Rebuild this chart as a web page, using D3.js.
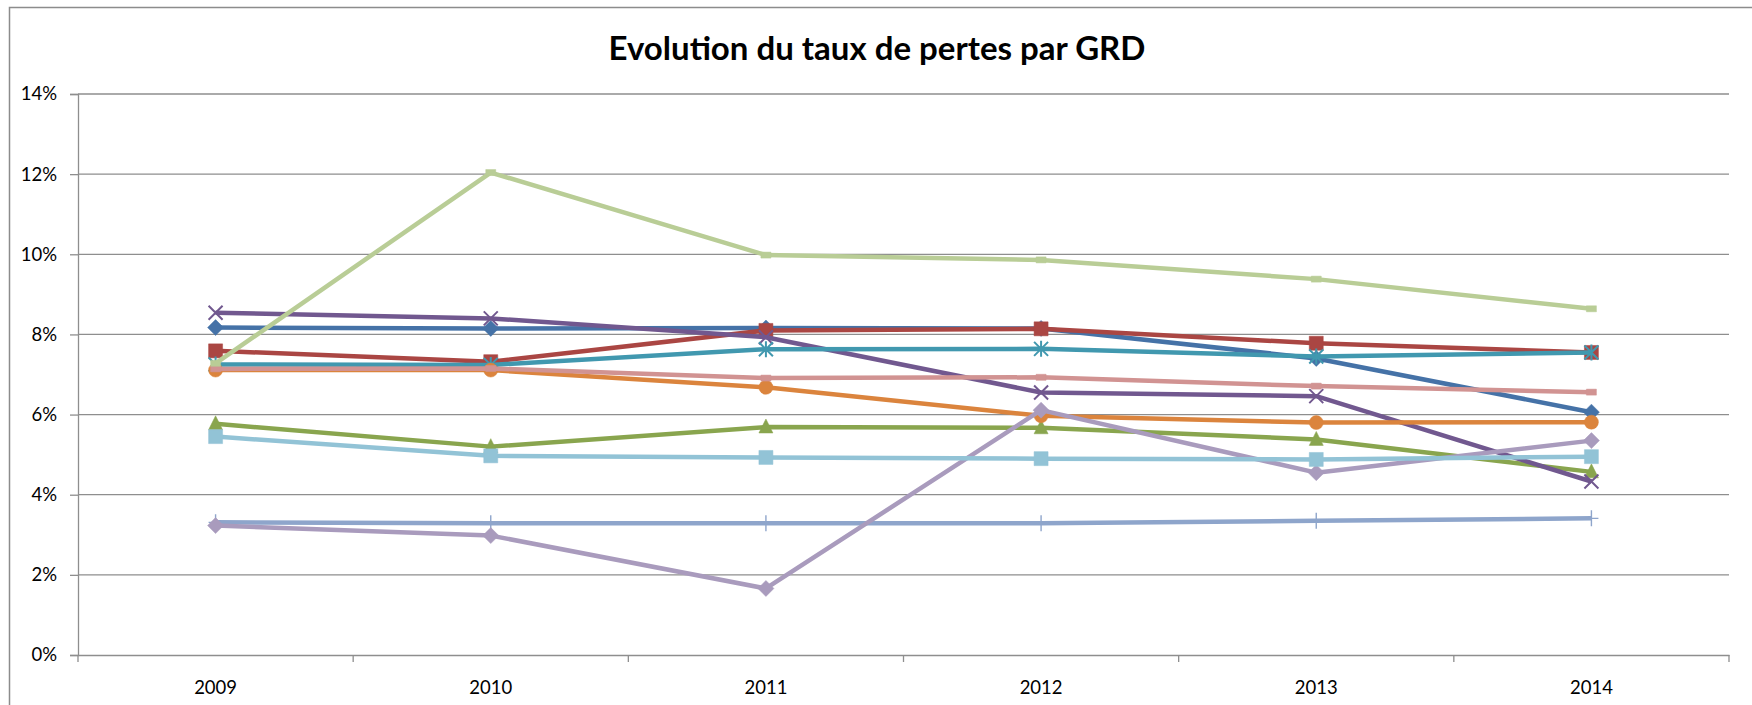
<!DOCTYPE html>
<html>
<head>
<meta charset="utf-8">
<script src="https://cdn.jsdelivr.net/npm/d3@7"></script>
<style>
  html, body { margin: 0; padding: 0; background: #fff; }
  svg { display: block; }
  text { font-family: Lato, "Open Sans", "Liberation Sans", sans-serif; fill: #000; }
</style>
</head>
<body>
<svg id="chart" width="1752" height="705"></svg>
<script>
// ---- data ----
const title = "Evolution du taux de pertes par GRD";
const years = ["2009", "2010", "2011", "2012", "2013", "2014"];
const yTicks = [0, 2, 4, 6, 8, 10, 12, 14];

const grd1 = [8.17, 8.15, 8.16, 8.15, 7.40, 6.06];
const grd2 = [7.59, 7.32, 8.10, 8.14, 7.78, 7.55];
const grd3 = [5.77, 5.20, 5.69, 5.67, 5.38, 4.57];
const grd4 = [8.54, 8.40, 7.93, 6.55, 6.46, 4.33];
const grd5 = [7.25, 7.24, 7.63, 7.64, 7.45, 7.55];
const grd6 = [7.11, 7.11, 6.68, 5.97, 5.80, 5.81];
const grd7 = [3.31, 3.29, 3.29, 3.29, 3.35, 3.41];
const grd8 = [7.14, 7.15, 6.91, 6.93, 6.71, 6.56];
const grd9 = [7.28, 12.04, 9.98, 9.86, 9.38, 8.64];
const grd10 = [3.23, 2.98, 1.66, 6.11, 4.55, 5.35];
const grd11 = [5.45, 4.97, 4.93, 4.90, 4.88, 4.95];

const seriesNames = ["GRD 1","GRD 2","GRD 3","GRD 4","GRD 5","GRD 6","GRD 7","GRD 8","GRD 9","GRD 10","GRD 11"];
const seriesValues = [grd1, grd2, grd3, grd4, grd5, grd6, grd7, grd8, grd9, grd10, grd11];
const seriesColors = ["#4572A7","#AA4643","#89A54E","#71588F","#4198AF","#DB843D","#8EA5CB","#D19392","#B9CD96","#A99BBD","#92C3D6"];
const seriesMarkers = ["diamond","square","triangle","x","star","circle","plus","dash","dash","diamond","square"];

// ---- layout ----
const svg = d3.select("#chart");
const W = 1752, H = 705;
const plot = { left: 78, right: 1729, top: 94, bottom: 655 };

const x = d3.scaleBand().domain(years).range([plot.left, plot.right]).padding(0);
const y = d3.scaleLinear().domain([0, 14]).range([plot.bottom, plot.top]);

// outer chart frame (cropped on right/bottom)
svg.append("path")
  .attr("d", `M9.5,${H + 5} L9.5,7.5 L${W + 5},7.5`)
  .attr("fill", "none").attr("stroke", "#8c8c8c").attr("stroke-width", 1.5);

// title
svg.append("text")
  .attr("x", 877).attr("y", 60)
  .attr("text-anchor", "middle")
  .style("font-weight", "bold").style("font-size", "33px")
  .text(title);

// gridlines
const grid = svg.append("g");
grid.selectAll("line").data(yTicks.filter(d => d > 0)).join("line")
  .attr("x1", plot.left).attr("x2", plot.right)
  .attr("y1", d => y(d)).attr("y2", d => y(d))
  .attr("stroke", "#8e8e8e").attr("stroke-width", 1.3);

// y axis
const yAxis = d3.axisLeft(y).tickValues(yTicks).tickSize(8).tickPadding(13)
  .tickFormat(d => d + "%");
const gy = svg.append("g").attr("transform", `translate(${plot.left},0)`).call(yAxis);
gy.select(".domain").attr("stroke", "#8e8e8e").attr("stroke-width", 1.3);
gy.selectAll(".tick line").attr("stroke", "#8e8e8e").attr("stroke-width", 1.3);
gy.selectAll(".tick text").style("font-size", "18.5px").attr("fill", "#000")
  .style("font-family", "Lato, 'Open Sans', sans-serif");

// x axis
const xAxis = d3.axisBottom(x).tickSize(0).tickPadding(26);
const gx = svg.append("g").attr("transform", `translate(0,${plot.bottom})`).call(xAxis);
gx.select(".domain").attr("stroke", "#8e8e8e").attr("stroke-width", 1.3);
gx.selectAll(".tick text").style("font-size", "18.5px").attr("fill", "#000")
  .style("font-family", "Lato, 'Open Sans', sans-serif");
// category boundary tick marks
const bounds = years.map(d => x(d)).concat([x(years[years.length - 1]) + x.bandwidth()]);
svg.append("g").selectAll("line").data(bounds).join("line")
  .attr("x1", d => d).attr("x2", d => d)
  .attr("y1", plot.bottom).attr("y2", plot.bottom + 7)
  .attr("stroke", "#8e8e8e").attr("stroke-width", 1.3);

// ---- marker shapes ----
function markerPath(type) {
  const s = 7;
  switch (type) {
    case "diamond": return `M0,${-s - 1}L${s + 1},0L0,${s + 1}L${-s - 1},0Z`;
    case "square": return `M${-s},${-s}H${s}V${s}H${-s}Z`;
    case "triangle": return `M0,${-s - 1}L${s},${s - 1}L${-s},${s - 1}Z`;
    case "circle": return d3.symbol(d3.symbolCircle, Math.PI * s * s)();
    case "x": return `M${-s},${-s}L${s},${s}M${-s},${s}L${s},${-s}`;
    case "star": return `M${-s},${-s}L${s},${s}M${-s},${s}L${s},${-s}M0,${-s - 1}V${s + 1}`;
    case "plus": return `M0,${-s - 1}V${s + 1}M${-s},0H${s}`;
    case "dash": return `M-5,-3H5V3H-5Z`;
  }
}
const strokeMarkers = new Set(["x", "star", "plus"]);

// ---- series ----
const line = d3.line().x((d, i) => x(years[i]) + x.bandwidth() / 2).y(d => y(d));

seriesValues.forEach((vals, si) => {
  const g = svg.append("g").attr("class", "series");
  const col = seriesColors[si];
  g.append("path").datum(vals)
    .attr("d", line)
    .attr("fill", "none").attr("stroke", col)
    .attr("stroke-width", 4.5).attr("stroke-linejoin", "round").attr("stroke-linecap", "butt");
  const type = seriesMarkers[si];
  const isStroke = strokeMarkers.has(type);
  g.selectAll("path.mk").data(vals).join("path")
    .attr("class", "mk")
    .attr("transform", (d, i) => `translate(${x(years[i]) + x.bandwidth() / 2},${y(d)})`)
    .attr("d", markerPath(type))
    .attr("fill", isStroke ? "none" : col)
    .attr("stroke", col)
    .attr("stroke-width", isStroke ? (type === "plus" ? 1.4 : 2) : 0.5);
});
</script>
</body>
</html>
